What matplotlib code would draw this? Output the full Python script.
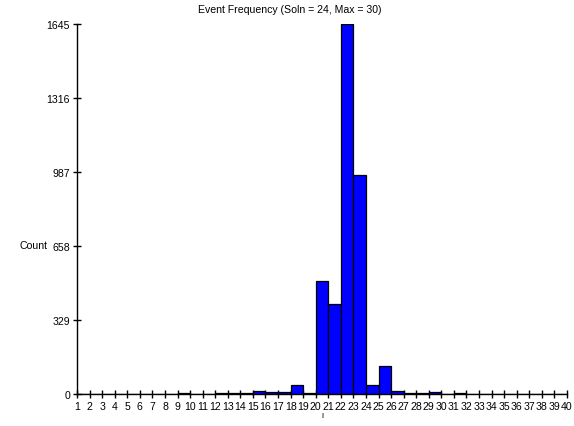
import matplotlib
matplotlib.use("Agg")
import matplotlib.pyplot as plt

# event counts, one bar per category (bar spans from category to category+1)
categories = list(range(1, 40))
counts = [0, 0, 0, 0, 0, 0, 0, 0, 3, 0,
          2, 3, 3, 3, 15, 7, 7, 38, 6, 503,
          402, 1645, 973, 38, 125, 15, 6, 3, 9, 0,
          3, 0, 0, 0, 0, 0, 0, 0, 0]
x_ticks = list(range(1, 41))
y_ticks = [0, 329, 658, 987, 1316, 1645]

plt.rcParams["font.family"] = ["Liberation Sans", "DejaVu Sans"]
fs = 7.6

fig = plt.figure(figsize=(5.74, 4.27), dpi=100)
ax = fig.add_axes([77 / 574, 1 - 395 / 427, 490 / 574, 370 / 427])

ax.bar(categories, counts, width=1.0, align="edge", color="#0000ff",
       edgecolor="black", linewidth=0.9, zorder=2)

ax.set_xlim(1, 40)
ax.set_ylim(0, 1645)
ax.set_xticks(x_ticks)
ax.set_xticklabels([str(t) for t in x_ticks], fontsize=fs)
ax.set_yticks(y_ticks)
ax.set_yticklabels([str(t) for t in y_ticks], fontsize=fs)
ax.tick_params(direction="inout", length=6, width=1, pad=2)

for side in ("top", "right"):
    ax.spines[side].set_visible(False)
for side in ("left", "bottom"):
    ax.spines[side].set_linewidth(1.0)

ax.set_xlabel("l", fontsize=6, labelpad=1)

fig.text(290 / 574, 1 - 10 / 427, "Event Frequency (Soln = 24, Max = 30)",
         ha="center", va="center", fontsize=fs)
fig.text(33 / 574, 1 - 246 / 427, "Count", ha="center", va="center", fontsize=fs)

fig.savefig("out.png", dpi=100)
